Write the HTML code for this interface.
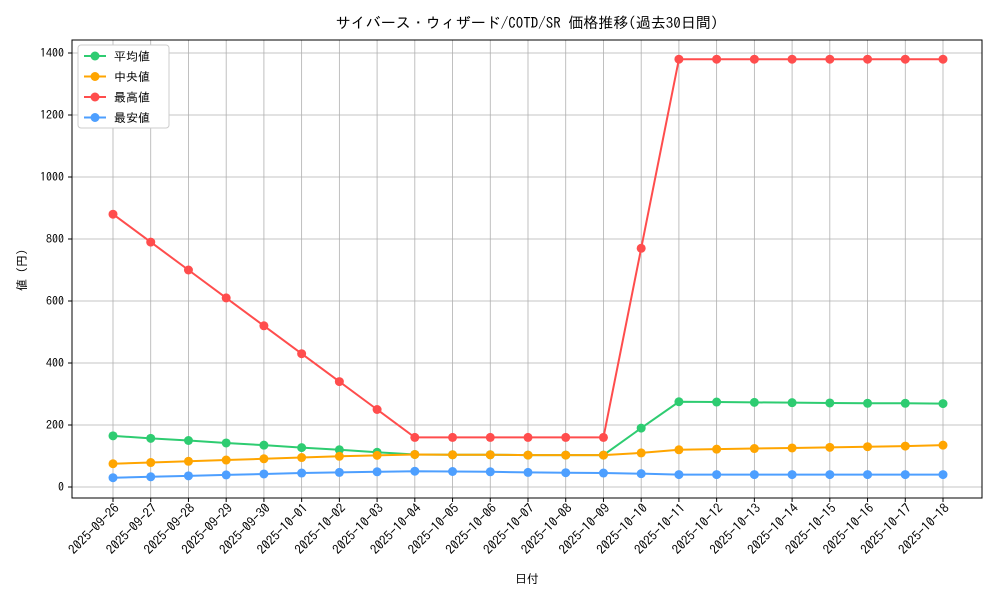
<!DOCTYPE html>
<html><head><meta charset="utf-8">
<style>
body{margin:0;background:#fff;}
svg{font-family:"IPAGothic","Noto Sans CJK JP",sans-serif;}
</style></head>
<body>
<svg id="chart" width="1000" height="600" xmlns="http://www.w3.org/2000/svg">
<rect width="1000" height="600" fill="#fff"/>
<text x="527" y="28" text-anchor="middle" font-size="15">サイバース・ウィザード/COTD/SR 価格推移(過去30日間)</text>
<g id="grid"></g>
<g id="axes"></g>
<g id="series"></g>
<text x="527" y="583" text-anchor="middle" font-size="12">日付</text>
<text transform="translate(26,270) rotate(-90)" text-anchor="middle" font-size="12">値 (円)</text>
<g id="legend"></g>
</svg>
<script>
const categories=["2025-09-26","2025-09-27","2025-09-28","2025-09-29","2025-09-30","2025-10-01","2025-10-02","2025-10-03","2025-10-04","2025-10-05","2025-10-06","2025-10-07","2025-10-08","2025-10-09","2025-10-10","2025-10-11","2025-10-12","2025-10-13","2025-10-14","2025-10-15","2025-10-16","2025-10-17","2025-10-18"];
const avgValues=[165,157,150,142,135,127,120,112,105,104,104,103,103,103,190,275,274,273,272,271,270,270,269];
const medianValues=[75,79,83,87,91,95,99,102,105,104,104,103,103,103,110,120,122,124,126,128,130,132,135];
const maxValues=[880,790,700,610,520,430,340,250,160,160,160,160,160,160,770,1380,1380,1380,1380,1380,1380,1380,1380];
const minValues=[30,33,36,39,42,45,47,49,51,50,49,47,46,45,43,40,40,40,40,40,40,40,40];
const yTicks=[0,200,400,600,800,1000,1200,1400];
const seriesNames=["平均値","中央値","最高値","最安値"];
const NS="http://www.w3.org/2000/svg";
const L=72,R=982,T=40,B=498;
const x0=113,x1=943;
function xs(i){return x0+(x1-x0)*i/(categories.length-1);}
function ys(v){return 487-v*(487-53)/1400;}
function mk(tag,attrs,parent){const e=document.createElementNS(NS,tag);for(const k in attrs)e.setAttribute(k,attrs[k]);parent.appendChild(e);return e;}
const grid=document.getElementById('grid'),axes=document.getElementById('axes'),ser=document.getElementById('series'),leg=document.getElementById('legend');
categories.forEach((c,i)=>{
  const g=mk('line',{x1:xs(i),x2:xs(i),y1:T,y2:B,stroke:'#b0b0b0','stroke-width':0.8},grid);
  
  
  mk('line',{x1:xs(i),x2:xs(i),y1:B,y2:B+4,stroke:'#000'},axes);
  const t=mk('text',{x:0,y:0,'font-size':13,'text-anchor':'end',transform:`translate(${xs(i)+7},${B+11}) rotate(-45)`},axes);
  t.textContent=c;
  
  
});
yTicks.forEach(v=>{
  const g=mk('line',{x1:L,x2:R,y1:ys(v),y2:ys(v),stroke:'#b0b0b0','stroke-width':0.8},grid);
  
  
  mk('line',{x1:L-4,x2:L,y1:ys(v),y2:ys(v),stroke:'#000'},axes);
  const t=mk('text',{x:L-8,y:ys(v)+4,'font-size':12,'text-anchor':'end'},axes);
  t.textContent=v;
  
  
});
const fr=mk('rect',{x:L,y:T,width:R-L,height:B-T,fill:'none',stroke:'#000','stroke-width':1},axes);


const all=[[avgValues,'#2ecc71'],[medianValues,'#ffa500'],[maxValues,'#ff4d4d'],[minValues,'#4d9fff']];
all.forEach(([vals,col],si)=>{
  const g=mk('g',{},ser);
  
  
  mk('polyline',{points:vals.map((v,i)=>xs(i)+','+ys(v)).join(' '),fill:'none',stroke:col,'stroke-width':2},g);
  vals.forEach((v,i)=>{
    const p=mk('circle',{cx:xs(i),cy:ys(v),r:4.5,fill:col},g);
    
    
  });
});
mk('rect',{x:78,y:45,width:91,height:83,fill:'#fff',stroke:'#ccc',rx:3},leg);
seriesNames.forEach((n,i)=>{
  const y=56+i*20.5;
  const e=mk('g',{},leg);
  
  
  mk('line',{x1:84,x2:106,y1:y,y2:y,stroke:all[i][1],'stroke-width':2},e);
  mk('circle',{cx:95,cy:y,r:4.5,fill:all[i][1]},e);
  const t=mk('text',{x:114,y:y+4.5,'font-size':12},e);
  t.textContent=n;
});
</script>
</body></html>
